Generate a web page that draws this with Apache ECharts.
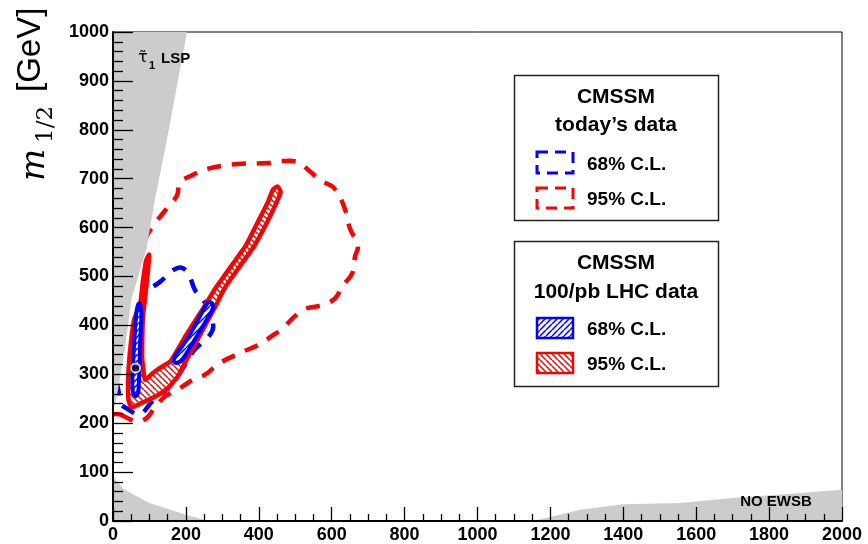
<!DOCTYPE html>
<html><head><meta charset="utf-8">
<script src="https://cdn.jsdelivr.net/npm/echarts@6/dist/echarts.min.js"></script>
<style>html,body{margin:0;padding:0;background:#fff}#c{width:868px;height:544px}</style>
</head><body><div id="c"></div>
<script>
// ---- data (m0, m1/2) in GeV ----
const xRange = [0, 2000];
const yRange = [0, 1000];

const redDashed95 = [[19,218],[47,208],[69,203],[93,211],[115,232],[143,255],[176,268],[219,289],[252,299],[285,319],[307,329],[362,348],[398,360],[439,380],[466,394],[499,419],[532,435],[573,441],[609,455],[631,482],[656,506],[664,541],[672,563],[650,598],[642,624],[628,654],[604,683],[573,695],[540,715],[508,734],[464,736],[425,732],[340,730],[258,720],[211,705],[184,693],[175,665],[143,635],[110,604],[93,583],[19,455],[-22,354],[-20,222]];

// open contour: it ends at the excluded (grey) region
const blueDashed68 = [[10,285],[16,262],[19,242],[42,228],[74,218],[107,244],[151,272],[189,309],[220,347],[243,364],[266,381],[275,398],[266,425],[248,452],[225,472],[207,506],[188,518],[165,513],[129,489],[102,476],[86,470]];

const redSolid95 = [[99,545],[91,533],[82,490],[74,441],[59,415],[49,364],[43,313],[41,272],[43,246],[51,232],[80,242],[115,254],[151,272],[178,296],[204,333],[237,378],[281,439],[306,476],[347,520],[388,563],[425,614],[449,652],[460,673],[452,684],[439,678],[425,652],[399,614],[364,563],[323,520],[281,476],[251,439],[202,382],[158,327],[129,313],[107,301],[88,289],[80,333],[82,415],[93,490],[99,537]];

const blueSolid68Left = [[73,445],[78,425],[75,374],[73,323],[71,283],[69,262],[62,255],[55,262],[53,283],[55,323],[59,374],[64,425],[69,443]];

const blueSolid68Diag = [[173,323],[189,329],[222,368],[255,409],[274,435],[272,445],[263,447],[255,441],[233,411],[200,368],[170,337],[167,327]];

const bestFit = [[62,313]];

const stauLSP = [[0,226],[10,252],[33,354],[51,455],[92,557],[115,658],[143,760],[203,1000],[0,1000]];
const noEWSBLow = [[0,0],[0,91],[28,66],[50,57],[100,37],[200,13],[262,0]];
const noEWSBHigh = [[1149,0],[1200,8],[1281,23],[1400,34],[1556,37],[1700,47],[1850,55],[2000,64],[2000,0]];

const legendToday = ['CMSSM', 'today\u2019s data'];
const legendLHC = ['CMSSM', '100/pb LHC data'];
const clLabels = ['68% C.L.', '95% C.L.'];

// ---- helpers ----
function hatch(color, dir) {
  const s = 6, c = document.createElement('canvas');
  c.width = s; c.height = s;
  const g = c.getContext('2d');
  g.fillStyle = '#fff'; g.fillRect(0, 0, s, s);
  g.strokeStyle = color; g.lineWidth = 1.5;
  g.beginPath();
  for (const o of [-s, 0, s]) {
    if (dir === '/') { g.moveTo(o, s); g.lineTo(o + s, 0); }
    else { g.moveTo(o, 0); g.lineTo(o + s, s); }
  }
  g.stroke();
  return { type: 'pattern', image: c, repeat: 'repeat' };
}
const redHatch = hatch('#ff0000', '\\');
const blueHatch = hatch('#0000ff', '/');

function poly(points, style, z, smooth, kind) {
  return {
    type: 'custom', coordinateSystem: 'cartesian2d', clip: true, silent: true, z: z,
    data: points,
    renderItem: function (params, api) {
      if (params.dataIndex !== 0) return null;
      const pts = points.map(p => api.coord(p));
      return { type: kind || 'polygon', shape: { points: pts, smooth: smooth }, style: style };
    }
  };
}

const chart = echarts.init(document.getElementById('c'), null, { renderer: 'canvas' });
const F = '"Liberation Sans", Arial, sans-serif';
const labelFont = { fontFamily: F, fontWeight: 'bold', fontSize: 18, color: '#000', formatter: v => String(v) };

function txt(x, y, text, font, align, extra) {
  return Object.assign({
    type: 'text', x: x, y: y, z: 30, silent: true,
    style: { text: text, font: font, fill: '#000', align: align, textAlign: align, verticalAlign: 'middle', textVerticalAlign: 'middle' }
  }, extra || {});
}

const graphics = [
  // legend box 1
  { type: 'rect', z: 25, shape: { x: 514.5, y: 75.5, width: 204, height: 145 }, style: { fill: '#fff', stroke: '#222', lineWidth: 1.5 } },
  txt(616, 97, legendToday[0], 'bold 21px ' + F, 'center'),
  txt(616, 125, legendToday[1], 'bold 21px ' + F, 'center'),
  { type: 'rect', z: 30, shape: { x: 537, y: 152, width: 36, height: 21 }, style: { fill: 'none', stroke: '#0000ff', lineWidth: 3, lineDash: [11, 7] } },
  txt(587, 165, clLabels[0], 'bold 19px ' + F, 'left'),
  { type: 'rect', z: 30, shape: { x: 537, y: 188, width: 36, height: 20 }, style: { fill: 'none', stroke: '#ff0000', lineWidth: 3, lineDash: [11, 7] } },
  txt(587, 200, clLabels[1], 'bold 19px ' + F, 'left'),
  // legend box 2
  { type: 'rect', z: 25, shape: { x: 514.5, y: 241.5, width: 204, height: 145 }, style: { fill: '#fff', stroke: '#222', lineWidth: 1.5 } },
  txt(616, 263, legendLHC[0], 'bold 21px ' + F, 'center'),
  txt(616, 292, legendLHC[1], 'bold 21px ' + F, 'center'),
  { type: 'rect', z: 30, shape: { x: 537, y: 318, width: 36, height: 20 }, style: { fill: blueHatch, stroke: '#0000ff', lineWidth: 2.5 } },
  txt(587, 330, clLabels[0], 'bold 19px ' + F, 'left'),
  { type: 'rect', z: 30, shape: { x: 537, y: 353, width: 36, height: 20 }, style: { fill: redHatch, stroke: '#ff0000', lineWidth: 2.5 } },
  txt(587, 365, clLabels[1], 'bold 19px ' + F, 'left'),
  // region labels
  txt(138, 58, '\u03C4\u0303', '16px "DejaVu Sans", sans-serif', 'left'),
  txt(149, 66, '1', 'bold 11px ' + F, 'left'),
  txt(161, 59, 'LSP', 'bold 15px ' + F, 'left'),
  txt(776, 502, 'NO EWSB', 'bold 15px ' + F, 'center'),
  // y axis title (rotated)
  txt(35, 181, 'm', 'italic 34px "DejaVu Serif", serif', 'left', { rotation: Math.PI / 2 }),
  txt(46, 143, '1/2', '23px "DejaVu Serif", serif', 'left', { rotation: Math.PI / 2 }),
  txt(31, 92, '[GeV]', '33px ' + F, 'left', { rotation: Math.PI / 2 })
];

const option = {
  animation: false,
  backgroundColor: '#fff',
  grid: { left: 113, right: 26, top: 32, bottom: 20, show: true, borderColor: '#000', borderWidth: 1, backgroundColor: 'transparent', containLabel: false },
  xAxis: {
    type: 'value', min: xRange[0], max: xRange[1], interval: 200, z: 10,
    axisLine: { show: true, lineStyle: { color: '#000', width: 2 } },
    axisTick: { show: true, inside: true, length: 14, lineStyle: { color: '#000', width: 1.3 } },
    minorTick: { show: true, splitNumber: 4, length: 7, lineStyle: { color: '#000', width: 1.3 } },
    splitLine: { show: false },
    axisLabel: Object.assign({ margin: 5 }, labelFont)
  },
  yAxis: {
    type: 'value', min: yRange[0], max: yRange[1], interval: 100, z: 10,
    axisLine: { show: true, lineStyle: { color: '#000', width: 2 } },
    axisTick: { show: true, inside: true, length: 20, lineStyle: { color: '#000', width: 1.3 } },
    minorTick: { show: true, splitNumber: 5, length: 10, lineStyle: { color: '#000', width: 1.3 } },
    splitLine: { show: false },
    axisLabel: Object.assign({ margin: 4 }, labelFont)
  },
  series: [
    poly(redDashed95, { fill: 'none', stroke: '#ff0000', lineWidth: 4.5, lineDash: [14, 11] }, 3, 0.35),
    poly(blueDashed68, { fill: 'none', stroke: '#0000ff', lineWidth: 4.5, lineDash: [14, 11] }, 3, 0.35, 'polyline'),
    poly(redSolid95, { fill: redHatch, stroke: '#ff0000', lineWidth: 4.5, lineJoin: 'round' }, 4, 0.15),
    poly(blueSolid68Left, { fill: blueHatch, stroke: '#0000ff', lineWidth: 4, lineJoin: 'round' }, 5, 0.3),
    poly(blueSolid68Diag, { fill: blueHatch, stroke: '#0000ff', lineWidth: 4, lineJoin: 'round' }, 5, 0.3),
    poly(stauLSP, { fill: '#cccccc', stroke: 'none' }, 6, 0),
    poly(noEWSBLow, { fill: '#cccccc', stroke: 'none' }, 6, 0),
    poly(noEWSBHigh, { fill: '#cccccc', stroke: 'none' }, 6, 0),
    {
      type: 'scatter', data: bestFit, z: 7, silent: true, symbol: 'circle', symbolSize: 9,
      itemStyle: { color: '#000', borderColor: '#fff', borderWidth: 2 }
    }
  ],
  graphic: graphics
};
chart.setOption(option);
</script>
</body></html>
